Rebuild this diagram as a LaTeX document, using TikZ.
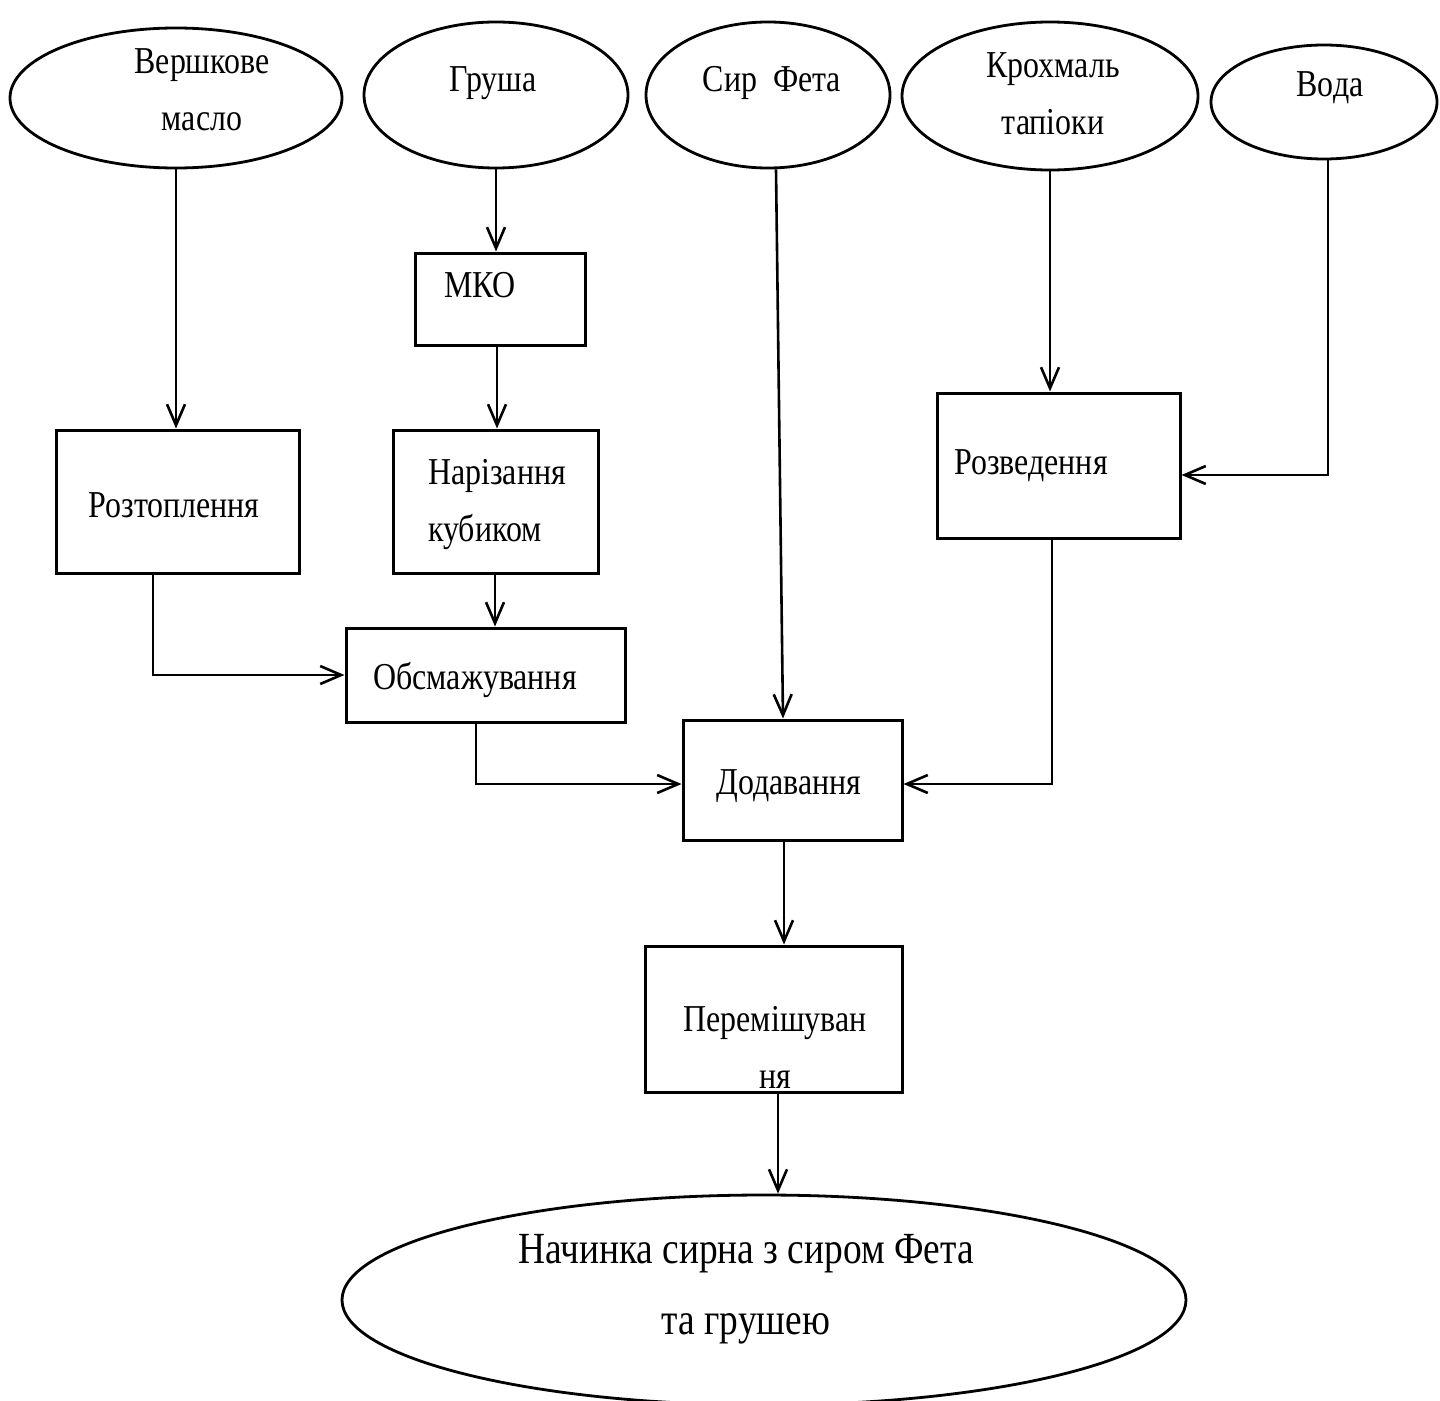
\documentclass[tikz,border=0pt]{standalone}
\usepackage{fontspec}
\setmainfont{Liberation Serif}[FakeStretch=0.84]
\usetikzlibrary{shapes.geometric,arrows.meta}
\begin{document}
\begin{tikzpicture}[x=1pt,y=-1pt,
  ell/.style={draw,line width=2.8pt,ellipse,inner sep=0pt},
  stepbox/.style={draw,line width=3pt,rectangle,inner sep=0pt},
  lbl/.style={inner sep=0pt,font=\fontsize{38}{57}\selectfont,align=center},
  biglbl/.style={inner sep=0pt,font=\fontsize{44.5}{71}\selectfont,align=center},
  arr/.style={line width=2.6pt,-{Straight Barb[length=21pt,width=18pt,line width=2.6pt]}},
  ln/.style={line width=2.6pt}]
\useasboundingbox (0,0) rectangle (1440,1400);
% ellipses
\node[ell,minimum width=332pt,minimum height=140pt] (e1) at (176,98) {};
\node[ell,minimum width=264pt,minimum height=146pt] (e2) at (496,95) {};
\node[ell,minimum width=244pt,minimum height=146pt] (e3) at (768,95) {};
\node[ell,minimum width=296pt,minimum height=148pt] (e4) at (1050,96) {};
\node[ell,minimum width=226pt,minimum height=114pt] (e5) at (1324,102) {};
\node[ell,minimum width=844pt,minimum height=210pt] (e6) at (764,1300) {};
% ellipse labels
\node[lbl] (t1) at (202,90) {Вершкове\\масло};
\node[lbl] (t2) at (493,83) {Груша};
\node[lbl] (t3) at (772,83) {Сир~ Фета};
\node[lbl] (t4) at (1053,94) {Крохмаль\\тапіоки};
\node[lbl] (t5) at (1330,88) {Вода};
\node[biglbl] (t6) at (746,1289) {Начинка сирна з сиром Фета\\та грушею};
% boxes
\node[stepbox,minimum width=243pt,minimum height=143pt] (roz) at (177.5,501.5) {};
\node[stepbox,minimum width=170pt,minimum height=92pt] (mko) at (500,299) {};
\node[stepbox,minimum width=205pt,minimum height=143pt] (nar) at (495.5,501.5) {};
\node[stepbox,minimum width=279pt,minimum height=94pt] (obs) at (485.5,675) {};
\node[stepbox,minimum width=219pt,minimum height=120pt] (dod) at (792.5,780) {};
\node[stepbox,minimum width=243pt,minimum height=145pt] (rzv) at (1058.5,465.5) {};
\node[stepbox,minimum width=257pt,minimum height=146pt] (per) at (773.5,1019) {};
% box labels
\node[lbl] (tmko) at (480,285) {МКО};
\node[lbl] (troz) at (174,505) {Розтоплення};
\node[lbl,align=left,anchor=west] (tnar) at (428,505) {Нарізання\\кубиком};
\node[lbl] (tobs) at (475,680) {Обсмажування};
\node[lbl] (tdod) at (789,786) {Додавання};
\node[lbl] (trzv) at (1031,466) {Розведення};
\node[lbl] (tper) at (775,1047) {Перемішуван\\ня};
% connectors
\draw[arr] (e1.south) -- (e1.south |- roz.north);
\draw[arr] (e2.south) -- (e2.south |- mko.north);
\draw[arr] ([xshift=-3pt]mko.south) -- ([xshift=-3pt]mko.south |- nar.north);
\draw[arr] ([xshift=-0.5pt]nar.south) -- ([xshift=-0.5pt]nar.south |- obs.north);
\draw[arr] ([xshift=-24.5pt]roz.south) |- (obs.west);
\draw[arr] ([xshift=-9.5pt]obs.south) |- ([yshift=-4pt]dod.west);
\draw[arr] ([xshift=8pt]e3.south) -- ([xshift=-9.5pt]dod.north);
\draw[arr] (e4.south) -- (e4.south |- rzv.north);
\draw[arr] ([xshift=4pt]e5.south) |- ([yshift=-9.5pt]rzv.east);
\draw[arr] ([xshift=-6.5pt]rzv.south) |- ([yshift=-4pt]dod.east);
\draw[arr] ([xshift=-8.5pt]dod.south) -- ([xshift=-8.5pt]dod.south |- per.north);
\draw[arr] ([xshift=4.5pt]per.south) -- ([xshift=4.5pt]per.south |- e6.north);
\end{tikzpicture}
\end{document}
